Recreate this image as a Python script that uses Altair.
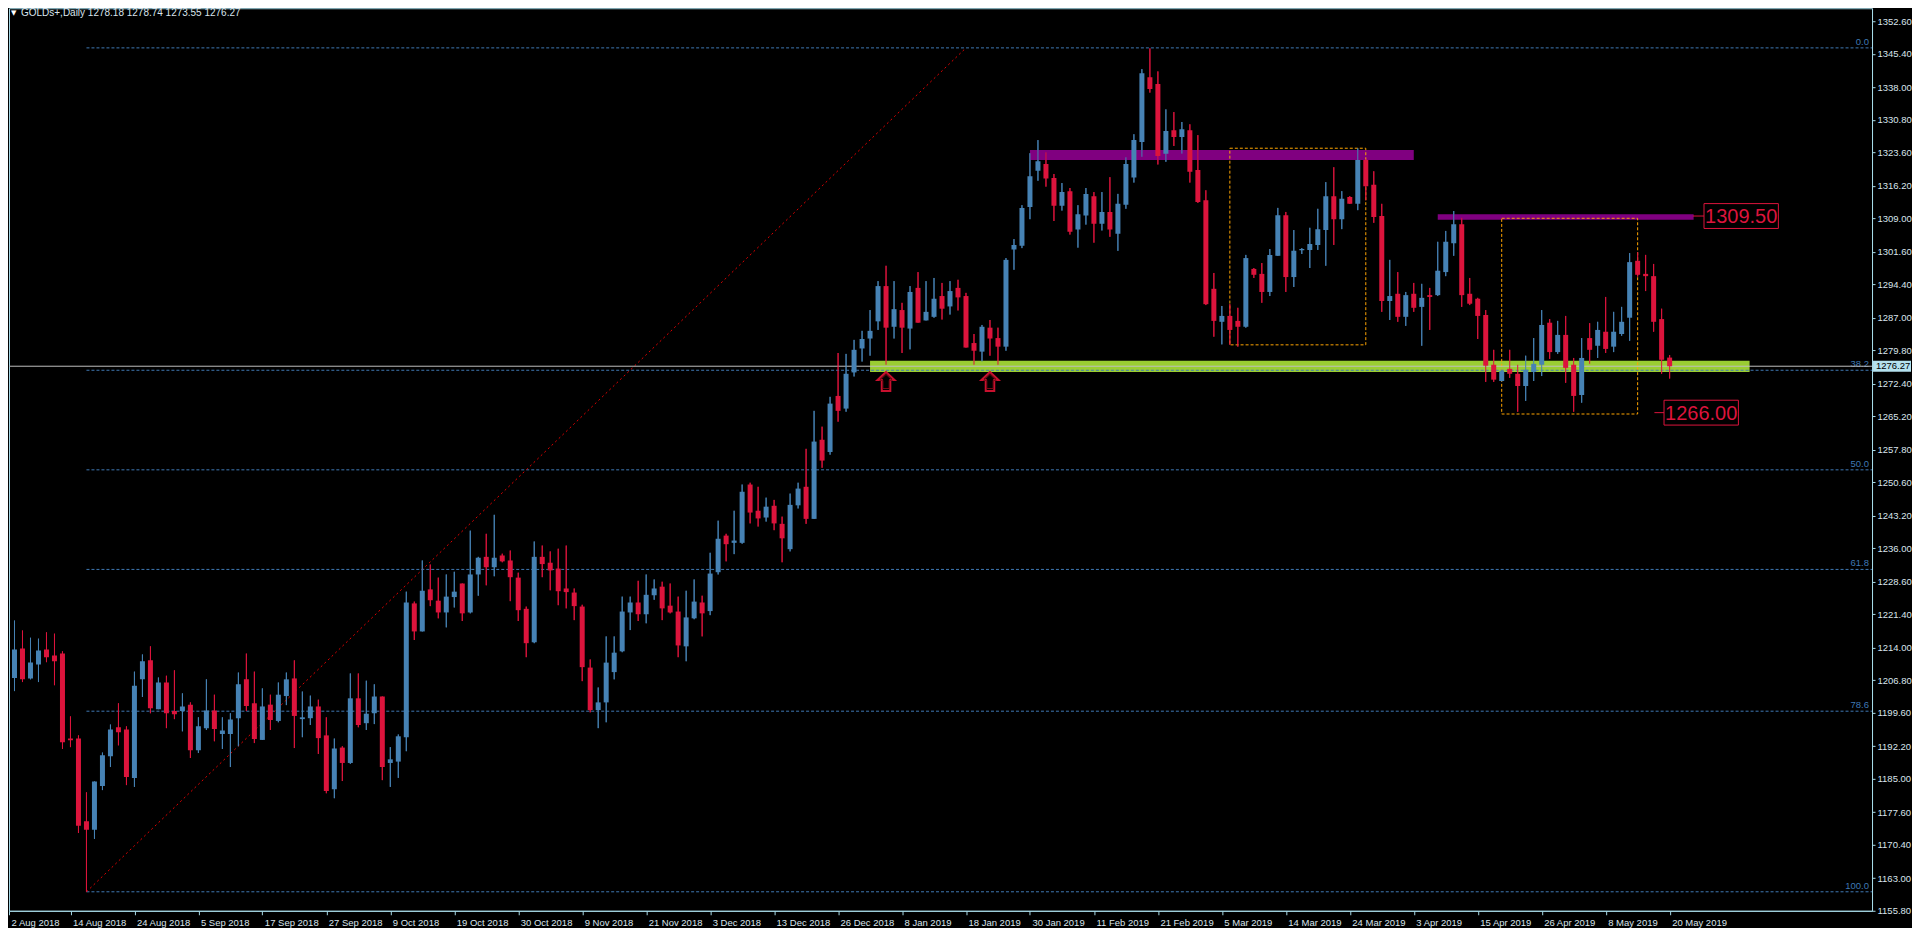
import altair as alt
import pandas as pd

# ---------------- data (daily candles, index 0 = 2 Aug 2018) -------------
OPEN = [1215.6, 1207.3, 1213.8, 1207.2, 1210.3, 1213.6, 1212.3, 1212.7, 1193.9, 1193.9,
        1175.6, 1173.7, 1183.4, 1190.0, 1196.4, 1195.9, 1185.2, 1207.0, 1211.2, 1200.4,
        1206.3, 1200.0, 1200.0, 1201.4, 1191.3, 1196.2, 1200.1, 1194.9, 1194.9, 1198.4,
        1207.0, 1201.7, 1193.6, 1201.4, 1197.8, 1203.3, 1207.2, 1198.2, 1198.4, 1201.0,
        1194.6, 1182.7, 1191.9, 1188.5, 1202.8, 1197.3, 1199.5, 1203.2, 1188.5, 1188.8,
        1194.2, 1223.8, 1217.6, 1226.9, 1224.4, 1221.8, 1225.2, 1228.2, 1221.8, 1230.2,
        1234.1, 1231.8, 1234.4, 1233.3, 1229.5, 1222.6, 1215.2, 1234.1, 1232.8, 1231.5,
        1227.1, 1226.2, 1223.1, 1209.6, 1200.2, 1201.9, 1208.6, 1213.2, 1221.8, 1224.0,
        1221.4, 1225.6, 1227.5, 1223.3, 1222.0, 1214.3, 1220.5, 1224.0, 1222.1, 1230.7,
        1238.8, 1237.2, 1237.2, 1250.1, 1244.3, 1242.8, 1245.4, 1241.4, 1235.8, 1245.5,
        1249.6, 1242.5, 1260.0, 1257.3, 1269.7, 1266.9, 1274.9, 1280.2, 1282.4, 1286.2,
        1294.0, 1285.0, 1288.7, 1284.6, 1293.6, 1286.4, 1287.2, 1291.8, 1289.5, 1293.6,
        1291.8, 1281.4, 1279.5, 1284.8, 1282.5, 1280.6, 1302.1, 1302.9, 1311.5, 1319.5,
        1321.0, 1317.9, 1311.8, 1315.0, 1306.5, 1309.6, 1313.9, 1307.8, 1310.4, 1305.6,
        1312.0, 1318.0, 1325.9, 1340.2, 1338.7, 1323.3, 1328.5, 1327.0, 1328.5, 1319.7,
        1313.0, 1293.4, 1286.1, 1287.4, 1286.3, 1285.0, 1297.8, 1296.7, 1292.7, 1300.7,
        1309.7, 1296.0, 1302.1, 1302.0, 1303.1, 1306.4, 1313.9, 1308.8, 1313.7, 1312.2,
        1321.9, 1316.4, 1309.5, 1290.7, 1292.3, 1287.2, 1292.3, 1289.4, 1292.0, 1292.0,
        1297.1, 1303.5, 1307.7, 1292.3, 1291.2, 1287.6, 1276.6, 1273.0, 1275.7, 1274.6,
        1271.9, 1275.0, 1276.6, 1285.9, 1279.4, 1283.2, 1276.6, 1269.9, 1282.5, 1280.8,
        1283.9, 1280.6, 1283.4, 1287.0, 1299.6, 1296.7, 1296.2, 1286.7, 1278.18]
HIGH = [1221.1, 1220.0, 1217.8, 1216.2, 1216.0, 1217.4, 1217.1, 1213.2, 1198.8, 1194.6,
        1182.0, 1184.4, 1190.8, 1197.0, 1201.7, 1196.6, 1208.7, 1212.5, 1214.3, 1207.4,
        1207.8, 1209.0, 1203.9, 1201.9, 1198.6, 1207.0, 1203.6, 1198.6, 1199.5, 1208.5,
        1212.7, 1208.7, 1205.0, 1203.6, 1206.3, 1208.5, 1211.2, 1204.3, 1203.4, 1202.5,
        1198.6, 1193.9, 1192.2, 1208.3, 1208.3, 1206.7, 1205.9, 1203.2, 1192.0, 1194.8,
        1226.4, 1224.2, 1233.3, 1232.4, 1229.5, 1230.2, 1230.8, 1228.2, 1239.9, 1234.1,
        1239.2, 1243.4, 1234.8, 1235.5, 1230.6, 1223.1, 1237.5, 1236.6, 1235.3, 1235.9,
        1236.6, 1227.1, 1223.5, 1211.4, 1205.2, 1216.5, 1216.5, 1225.3, 1225.3, 1228.8,
        1230.2, 1229.1, 1228.6, 1228.2, 1225.3, 1226.6, 1229.1, 1225.5, 1235.0, 1242.1,
        1239.2, 1244.3, 1250.1, 1250.5, 1249.6, 1247.2, 1246.7, 1243.0, 1248.1, 1250.5,
        1258.0, 1266.4, 1262.9, 1269.5, 1279.2, 1279.0, 1282.1, 1284.1, 1288.7, 1295.1,
        1298.5, 1295.1, 1290.3, 1294.0, 1297.1, 1295.1, 1295.8, 1294.7, 1295.1, 1295.4,
        1292.5, 1283.4, 1285.4, 1286.5, 1284.8, 1300.2, 1304.4, 1311.9, 1323.4, 1326.3,
        1323.6, 1318.8, 1316.8, 1315.7, 1311.9, 1315.7, 1314.8, 1314.8, 1318.1, 1314.4,
        1322.5, 1327.6, 1342.0, 1346.6, 1341.5, 1333.1, 1332.5, 1330.3, 1329.8, 1327.4,
        1315.2, 1296.9, 1289.6, 1290.0, 1289.2, 1300.9, 1298.0, 1299.1, 1302.2, 1311.3,
        1310.4, 1306.4, 1302.4, 1306.9, 1311.1, 1317.0, 1320.3, 1315.0, 1313.9, 1324.5,
        1322.1, 1319.4, 1312.2, 1299.8, 1297.1, 1292.7, 1294.7, 1294.5, 1293.6, 1303.8,
        1306.2, 1310.6, 1309.1, 1295.8, 1291.4, 1288.7, 1279.9, 1275.5, 1279.9, 1276.6,
        1278.6, 1282.5, 1288.7, 1286.7, 1286.3, 1287.4, 1278.1, 1282.5, 1285.8, 1286.1,
        1291.6, 1288.3, 1289.4, 1301.3, 1301.5, 1300.9, 1298.9, 1289.0, 1278.74]
LOW = [1206.8, 1204.4, 1206.4, 1207.0, 1206.4, 1210.8, 1205.7, 1191.6, 1192.0, 1173.0,
       1160.0, 1171.7, 1182.5, 1187.6, 1192.4, 1183.6, 1183.2, 1203.1, 1199.5, 1200.4,
       1196.2, 1198.2, 1195.5, 1189.6, 1190.7, 1195.8, 1193.3, 1191.6, 1187.6, 1192.2,
       1200.0, 1192.9, 1193.6, 1195.8, 1197.5, 1201.3, 1191.8, 1194.2, 1196.9, 1190.5,
       1181.8, 1180.7, 1184.5, 1188.3, 1196.4, 1195.8, 1197.1, 1184.7, 1183.2, 1185.2,
       1191.1, 1215.7, 1217.6, 1223.2, 1220.5, 1218.5, 1222.9, 1219.9, 1221.6, 1225.5,
       1227.8, 1229.8, 1232.9, 1224.3, 1219.9, 1211.9, 1215.0, 1229.6, 1226.7, 1223.4,
       1222.7, 1220.1, 1206.6, 1199.7, 1196.2, 1197.5, 1207.0, 1213.0, 1217.9, 1219.9,
       1219.4, 1224.6, 1220.1, 1221.6, 1211.9, 1211.0, 1220.3, 1216.5, 1221.2, 1230.2,
       1233.1, 1234.7, 1237.0, 1241.5, 1240.8, 1241.9, 1240.0, 1232.9, 1235.3, 1244.8,
       1241.4, 1242.5, 1253.8, 1256.7, 1264.0, 1266.2, 1274.0, 1277.3, 1278.6, 1284.3,
       1276.6, 1282.4, 1279.2, 1280.0, 1285.9, 1286.4, 1287.0, 1286.6, 1287.7, 1288.6,
       1280.4, 1276.6, 1277.3, 1278.6, 1276.6, 1279.7, 1297.6, 1302.4, 1308.8, 1317.3,
       1316.0, 1308.4, 1310.7, 1305.4, 1302.5, 1307.6, 1303.6, 1306.3, 1304.9, 1301.8,
       1311.1, 1316.9, 1322.6, 1336.8, 1320.9, 1321.5, 1325.0, 1323.3, 1316.9, 1312.4,
       1289.8, 1282.8, 1281.1, 1281.0, 1280.6, 1284.8, 1295.8, 1290.3, 1291.8, 1300.7,
       1292.7, 1293.8, 1301.1, 1298.0, 1302.0, 1298.5, 1303.1, 1306.6, 1312.2, 1310.8,
       1313.0, 1308.0, 1288.3, 1286.5, 1286.1, 1285.2, 1288.3, 1280.8, 1284.3, 1291.8,
       1296.2, 1300.7, 1289.4, 1289.8, 1282.3, 1272.8, 1272.8, 1272.9, 1273.7, 1266.2,
       1268.6, 1273.0, 1274.1, 1277.9, 1279.0, 1272.6, 1266.2, 1268.2, 1276.8, 1278.1,
       1279.2, 1279.4, 1283.0, 1281.9, 1296.1, 1292.9, 1283.9, 1274.6, 1273.55]
CLOSE = [1207.5, 1213.6, 1207.0, 1210.7, 1213.4, 1211.9, 1211.0, 1193.1, 1193.5, 1174.6,
         1173.7, 1184.4, 1190.2, 1195.9, 1195.3, 1185.4, 1205.6, 1211.0, 1200.6, 1206.3,
         1199.5, 1199.3, 1201.0, 1191.3, 1196.6, 1200.1, 1196.0, 1195.7, 1198.1, 1205.9,
         1201.1, 1193.8, 1201.0, 1198.0, 1203.6, 1207.0, 1198.9, 1198.6, 1201.0, 1194.0,
         1182.3, 1191.7, 1188.5, 1202.8, 1196.9, 1199.4, 1203.2, 1187.6, 1189.3, 1194.4,
         1224.0, 1217.6, 1226.6, 1224.5, 1221.8, 1225.3, 1226.4, 1221.6, 1230.2, 1233.9,
         1231.8, 1233.9, 1233.1, 1229.6, 1222.3, 1215.0, 1234.1, 1232.5, 1231.1, 1226.5,
         1226.3, 1223.2, 1209.7, 1200.2, 1201.9, 1210.7, 1212.9, 1222.0, 1224.0, 1221.4,
         1225.7, 1227.1, 1222.7, 1221.8, 1214.5, 1220.7, 1224.2, 1221.6, 1230.4, 1238.1,
         1236.9, 1237.7, 1248.5, 1243.9, 1242.6, 1245.2, 1241.5, 1238.2, 1245.6, 1249.2,
         1242.5, 1259.6, 1255.4, 1268.0, 1266.4, 1274.6, 1279.9, 1282.3, 1284.1, 1294.0,
         1284.8, 1288.9, 1284.8, 1292.7, 1285.9, 1288.3, 1291.2, 1289.0, 1292.9, 1291.5,
         1280.4, 1279.7, 1285.0, 1282.4, 1280.6, 1299.8, 1303.1, 1311.3, 1318.3, 1321.6,
         1317.8, 1311.8, 1314.8, 1306.0, 1309.9, 1314.4, 1307.8, 1310.4, 1306.5, 1312.2,
         1321.0, 1326.3, 1341.1, 1337.6, 1322.8, 1328.3, 1327.0, 1328.7, 1319.3, 1312.6,
         1290.0, 1286.3, 1287.4, 1284.3, 1285.0, 1300.2, 1296.5, 1292.7, 1300.9, 1309.7,
         1296.0, 1301.8, 1302.2, 1303.3, 1306.6, 1313.9, 1308.8, 1313.3, 1312.2, 1321.9,
         1316.1, 1309.3, 1290.7, 1291.8, 1287.2, 1292.0, 1289.2, 1291.4, 1291.6, 1297.4,
         1303.8, 1307.7, 1292.0, 1290.1, 1287.4, 1276.4, 1273.3, 1275.2, 1274.6, 1271.9,
         1275.5, 1276.8, 1285.4, 1279.4, 1283.2, 1275.9, 1269.7, 1278.1, 1279.9, 1284.3,
         1280.1, 1283.9, 1286.1, 1299.3, 1296.5, 1296.2, 1286.1, 1277.7, 1276.27]

X_LABELS = ["2 Aug 2018", "14 Aug 2018", "24 Aug 2018", "5 Sep 2018", "17 Sep 2018",
            "27 Sep 2018", "9 Oct 2018", "19 Oct 2018", "30 Oct 2018", "9 Nov 2018",
            "21 Nov 2018", "3 Dec 2018", "13 Dec 2018", "26 Dec 2018", "8 Jan 2019",
            "18 Jan 2019", "30 Jan 2019", "11 Feb 2019", "21 Feb 2019", "5 Mar 2019",
            "14 Mar 2019", "24 Mar 2019", "3 Apr 2019", "15 Apr 2019", "26 Apr 2019",
            "8 May 2019", "20 May 2019"]
X_LABEL_STEP = 8
Y_TICKS = [1352.60, 1345.40, 1338.00, 1330.80, 1323.60, 1316.20, 1309.00, 1301.60,
           1294.40, 1287.00, 1279.80, 1272.40, 1265.20, 1257.80, 1250.60, 1243.20,
           1236.00, 1228.60, 1221.40, 1214.00, 1206.80, 1199.60, 1192.20, 1185.00,
           1177.60, 1170.40, 1163.00, 1155.80]

SYMBOL = "GOLDs+,Daily"

# Fibonacci retracement (anchor low at candle 10, high 1346.7)
FIB_LEVELS = [0.0, 38.2, 50.0, 61.8, 78.6, 100.0]
FIB_LOW = 1160.0
FIB_HIGH = 1346.7
FIB_LOW_INDEX = 10
FIB_HIGH_INDEX = 120

# drawn objects
GREEN_ZONE = {"i1": 108, "i2": 218, "p1": 1275.0, "p2": 1277.5}
PURPLE_ZONES = {"i1": [128, 179], "i2": [176, 211], "p1": [1321.9, 1308.7], "p2": [1324.1, 1309.9]}
ORANGE_BOXES = {"i1": [153, 187], "i2": [170, 204], "p1": [1281.0, 1265.7], "p2": [1324.5, 1309.0]}
ARROW_INDEX = [110, 123]
ARROW_PRICE = 1272.9
LEVEL_TAGS = {"text": ["1309.50", "1266.00"], "price": [1309.5, 1266.0],
              "line_from": [210.9, 206.1], "box_from": [212.3, 207.3], "box_to": [221.6, 216.6]}

# ---------------- layout ----------------
W, H = 1864, 903
X0, X1 = 0.3125, 233.3125
Y0, Y1 = 1155.80, 1355.47
BULL, BEAR = "#4682B4", "#DC143C"
AXIS_COL = "#a8dbe8"
TXT_COL = "#d9e4ec"
FIB_COL = "#3f78b4"
FONT = "Liberation Sans, Arial, sans-serif"

xs = alt.Scale(domain=[X0, X1], nice=False, zero=False)
ys = alt.Scale(domain=[Y0, Y1], nice=False, zero=False)

label_expr = "[" + ",".join("'" + s + "'" for s in X_LABELS) + "][round(datum.value/%d)]" % X_LABEL_STEP
x_tick_values = [max(k * X_LABEL_STEP, X0 + 0.01) for k in range(len(X_LABELS))]
x_axis = alt.Axis(values=x_tick_values, labelExpr=label_expr,
                  title=None, grid=False, domainColor=AXIS_COL, tickColor=AXIS_COL, tickSize=4,
                  labelColor=TXT_COL, labelFont=FONT, labelFontSize=9.5, labelAlign="left",
                  labelBaseline="top", labelPadding=3, labelOffset=2, labelFlush=False,
                  labelOverlap=False)
y_axis = alt.Axis(orient="right", values=Y_TICKS, format=".2f", title=None, grid=False,
                  domainColor=AXIS_COL, tickColor=AXIS_COL, tickSize=3, labelPadding=2,
                  labelColor=TXT_COL, labelFont=FONT, labelFontSize=9.5, labelOverlap=False,
                  labelFlush=False)


def X(field):
    return alt.X(field, type="quantitative", scale=xs, axis=x_axis)


def Y(field):
    return alt.Y(field, type="quantitative", scale=ys, axis=y_axis)


n = len(OPEN)
df = pd.DataFrame({"i": list(range(n)), "o": OPEN, "h": HIGH, "l": LOW, "c": CLOSE})
df["dir"] = ["up" if c >= o else "down" for o, c in zip(df.o, df.c)]
df["top"] = df[["o", "c"]].max(axis=1)
df["bot"] = df[["o", "c"]].min(axis=1)
thin = (df.top - df.bot) < 0.25
df.loc[thin, "bot"] = df.loc[thin, "top"] - 0.25
df["x1"] = df.i - 0.3125
df["x2"] = df.i + 0.3125

col = alt.Color("dir:N", scale=alt.Scale(domain=["up", "down"], range=[BULL, BEAR]), legend=None)

wicks = alt.Chart(df).mark_rule(strokeWidth=1, clip=True).encode(
    x=X("i"), y=Y("l"), y2="h:Q", color=col)
bodies = alt.Chart(df).mark_rect(clip=True).encode(
    x=X("x1"), x2="x2:Q", y=Y("bot"), y2="top:Q", color=col)

# green support zone
gdf = pd.DataFrame([GREEN_ZONE])
green = alt.Chart(gdf).mark_rect(color="#9ACD32").encode(
    x=X("i1"), x2="i2:Q", y=Y("p1"), y2="p2:Q")

pdf = pd.DataFrame(PURPLE_ZONES)
purple = alt.Chart(pdf).mark_rect(color="#800080").encode(
    x=X("i1"), x2="i2:Q", y=Y("p1"), y2="p2:Q")

odf = pd.DataFrame(ORANGE_BOXES)
orange = alt.Chart(odf).mark_rect(fillOpacity=0, stroke="#FFA500", strokeWidth=1,
                                  strokeDash=[3, 2]).encode(
    x=X("i1"), x2="i2:Q", y=Y("p1"), y2="p2:Q")

# fibonacci
fib_df = pd.DataFrame({
    "label": ["%.1f" % v for v in FIB_LEVELS],
    "price": [FIB_HIGH - v / 100.0 * (FIB_HIGH - FIB_LOW) for v in FIB_LEVELS],
    "start": [FIB_LOW_INDEX] * len(FIB_LEVELS)})
fib_lines = alt.Chart(fib_df).mark_rule(color=FIB_COL, strokeWidth=1, strokeDash=[3, 2]).encode(
    x=X("start"), x2=alt.value(W), y=Y("price"))
fib_text = alt.Chart(fib_df).mark_text(align="right", baseline="bottom", dy=-1, color=FIB_COL,
                                       font=FONT, fontSize=9.5).encode(
    x=alt.value(W - 3), y=Y("price"), text="label:N")
diag_df = pd.DataFrame({"a": [FIB_LOW_INDEX], "b": [FIB_HIGH_INDEX], "pa": [FIB_LOW], "pb": [FIB_HIGH]})
diag = alt.Chart(diag_df).mark_rule(color="#e00000", strokeWidth=1, strokeDash=[2, 3]).encode(
    x=X("a"), x2="b:Q", y=Y("pa"), y2="pb:Q")

# bid line
last = pd.DataFrame({"p": [CLOSE[-1]], "txt": ["%.2f" % CLOSE[-1]],
                     "lo": [CLOSE[-1] - 1.2], "hi": [CLOSE[-1] + 1.2]})
bid = alt.Chart(last).mark_rule(color="#bfbfbf", strokeWidth=1).encode(
    x=alt.value(0), x2=alt.value(W), y=Y("p"))
bid_box = alt.Chart(last).mark_rect(color="#b4e1ee").encode(
    x=alt.value(W + 1), x2=alt.value(W + 39), y=Y("lo"), y2="hi:Q")
bid_txt = alt.Chart(last).mark_text(color="#000000", font=FONT, fontSize=9.5, align="left",
                                    baseline="middle").encode(
    x=alt.value(W + 4), y=Y("p"), text="txt:N")

# arrows
adf = pd.DataFrame({"i": ARROW_INDEX, "p": [ARROW_PRICE] * len(ARROW_INDEX)})
arrow_path = "M0,-1L0.9,-0.15L0.45,-0.15L0.45,1L-0.45,1L-0.45,-0.15L-0.9,-0.15Z"
arrows = alt.Chart(adf).mark_point(shape=arrow_path, size=361, filled=False, stroke="#c8102e",
                                   strokeWidth=2, opacity=1).encode(x=X("i"), y=Y("p"))
arrows_in = alt.Chart(adf).mark_point(shape=arrow_path, size=200, filled=False, stroke="#7a0a16",
                                      strokeWidth=1, opacity=1).encode(x=X("i"), y=Y("p"))

# level tags
tdf = pd.DataFrame(LEVEL_TAGS)
tdf["lo"] = tdf.price - 2.75
tdf["hi"] = tdf.price + 2.75
tdf["mid"] = (tdf.box_from + tdf.box_to) / 2
tag_line = alt.Chart(tdf).mark_rule(color="#DC143C", strokeWidth=1).encode(
    x=X("line_from"), x2="box_from:Q", y=Y("price"))
tag_box = alt.Chart(tdf).mark_rect(fill="#000000", stroke="#DC143C", strokeWidth=1).encode(
    x=X("box_from"), x2="box_to:Q", y=Y("lo"), y2="hi:Q")
tag_txt = alt.Chart(tdf).mark_text(color="#DC143C", font=FONT, fontSize=20, baseline="middle",
                                   align="center", dy=1).encode(
    x=X("mid"), y=Y("price"), text="text:N")

# header
head = "%s  %.2f %.2f %.2f %.2f" % (SYMBOL, OPEN[-1], HIGH[-1], LOW[-1], CLOSE[-1])
hdf = pd.DataFrame({"t": [head], "m": ["\u25BC"]})
header = alt.Chart(hdf).mark_text(color=TXT_COL, font=FONT, fontSize=10, align="left",
                                  baseline="middle").encode(
    x=alt.value(12), y=alt.value(5), text="t:N")
header_tri = alt.Chart(hdf).mark_text(color="#ffffff", font="DejaVu Sans", fontSize=7,
                                      align="left", baseline="middle").encode(
    x=alt.value(2), y=alt.value(5), text="m:N")

chart = alt.layer(
    wicks, green, purple, orange, fib_lines, fib_text, diag, bid,
    alt.layer(wicks, bodies),
    arrows, arrows_in, tag_line, tag_box, tag_txt, bid_box, bid_txt, header_tri, header
).properties(
    width=W, height=H, padding={"left": 0, "top": 0, "right": 0, "bottom": 0}
).configure(background="#000000").configure_view(stroke=AXIS_COL, strokeWidth=1)

chart.save("out.html", embed_options={"renderer": "svg", "actions": False})
